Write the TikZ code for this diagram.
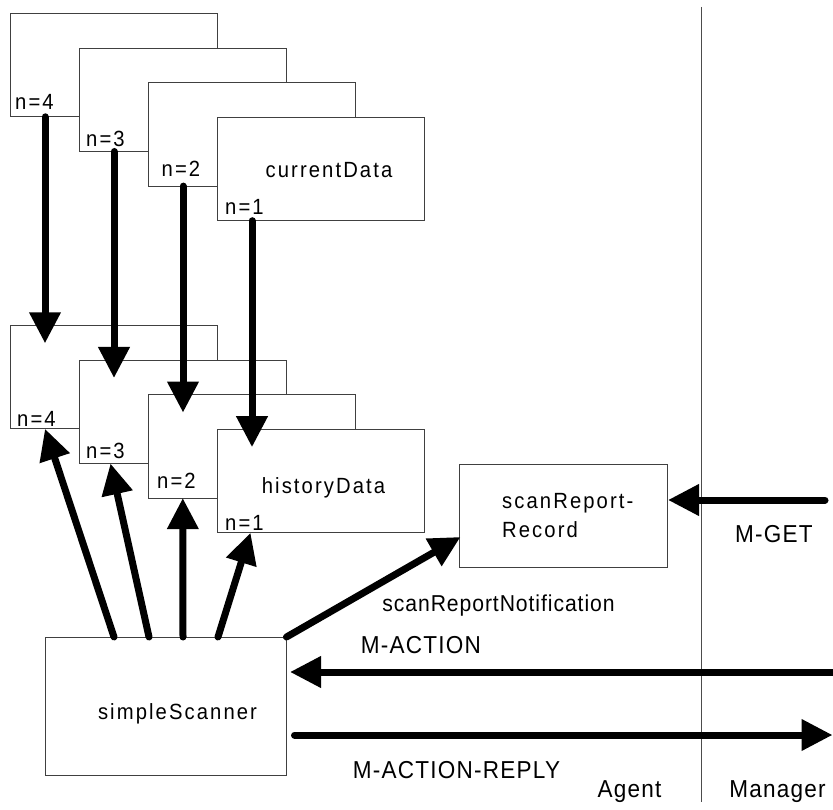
\documentclass[tikz,border=0pt]{standalone}
\usepackage{fontspec}
\setmainfont{Liberation Sans}
\newfontfamily\smallfont{Liberation Sans}[LetterSpace=9.5,FakeStretch=0.92]
\newfontfamily\bigfont{Liberation Sans}[LetterSpace=5,FakeStretch=0.92]
\newfontfamily\notefont{Liberation Sans}[LetterSpace=4,FakeStretch=0.92]
\usetikzlibrary{arrows.meta,calc}

\begin{document}
\begin{tikzpicture}[x=1pt,y=-1pt,
  frame/.style={draw=black!75, line width=0.9pt, fill=white, inner sep=0pt,
    outer sep=0pt, anchor=north west, minimum width=207pt, minimum height=103.5pt},
  plainbox/.style={draw=black!75, line width=0.9pt, fill=white, inner sep=0pt,
    outer sep=0pt, anchor=north west},
  flow/.style={line width=7pt, line cap=round, -{Triangle[length=31pt,width=30pt]}},
  txt/.style={inner sep=0pt, anchor=base, font=\smallfont\fontsize{22}{25}\selectfont},
  idx/.style={inner sep=0pt, anchor=base west, font=\smallfont\fontsize{22}{25}\selectfont},
  msg/.style={inner sep=0pt, anchor=base, font=\bigfont\fontsize{24.5}{27}\selectfont},
  divider/.style={draw=black!70, line width=0.9pt}
]
\useasboundingbox (0,0) rectangle (833,810);

% currentData stack, back to front
\node[frame] (c4) at (10.5,13.3) {};
\node[idx] (c4l) at (15,110) {n=4};
\node[frame] (c3) at (79.5,48) {};
\node[idx] (c3l) at (86,147) {n=3};
\node[frame] (c2) at (148.5,82.6) {};
\node[idx] (c2l) at (161.5,177) {n=2};
\node[frame] (c1) at (217.5,117.2) {};
\node[idx] (c1l) at (225,215) {n=1};
\node[txt] (cdt) at (329,178) {currentData};

% historyData stack, back to front
\node[frame] (h4) at (10.5,325.3) {};
\node[idx] (h4l) at (17,426) {n=4};
\node[frame] (h3) at (79.5,360) {};
\node[idx] (h3l) at (86,458) {n=3};
\node[frame] (h2) at (148.5,394.6) {};
\node[idx] (h2l) at (157,488) {n=2};
\node[frame] (h1) at (217.5,429.2) {};
\node[idx] (h1l) at (225,530) {n=1};
\node[txt] (hdt) at (323.5,493) {historyData};

% scanner and report record
\node[plainbox, minimum width=241.5pt, minimum height=138pt] (scan) at (45,637) {};
\node[txt] (scant) at (177.5,719) {simpleScanner};
\node[plainbox, minimum width=208pt, minimum height=103pt] (rec) at (459,464) {};
\node[idx] (rect1) at (502,508) {scanReport-};
\node[idx] (rect2) at (502,537) {Record};

% agent / manager boundary
\coordinate (divtop) at (701,7);
\coordinate (divbot) at (701,802);
\draw[divider] (divtop) -- (divbot);

% copies from currentData to historyData
\foreach \k in {1,...,4}{
  \draw[flow] ($(c\k.south west)+(34.5,0)$) -- ($(h\k.north west)+(34.5,18)$);
}

% scanner updates of historyData
\draw[flow] ($(scan.north west)+(69,0)$) -- ($(h4.south west)+(34.5,0)$);
\draw[flow] ($(scan.north west)+(104,0)$) -- ($(h3.south west)+(31,0)$);
\draw[flow] ($(scan.north west)+(138,0)$) -- ($(h2.south west)+(34.3,0)$);
\draw[flow] ($(scan.north west)+(173,0)$) -- ($(h1.south west)+(33,0)$);

% notification to the report record
\draw[flow] (scan.north east) -- ($(rec.north west)+(1.5,73)$);
\node[msg, font=\notefont\fontsize{23}{26}\selectfont] (notet) at (498.5,611) {scanReportNotification};

% manager operations
\coordinate (getsrc) at (825,500);
\draw[flow] (getsrc) -- ($(rec.north east)+(1,36)$);
\node[msg] (gett) at (774,542) {M-GET};

\coordinate (actsrc) at (840,672);
\draw[flow] (actsrc) -- ($(scan.north east)+(3.5,35)$);
\node[msg] (actt) at (421,653) {M-ACTION};

\coordinate (replydst) at (832.5,735);
\draw[flow] ($(scan.north east)+(8,98)$) -- (replydst);
\node[msg] (replyt) at (456.5,778) {M-ACTION-REPLY};

\node[msg] (agent) at (629.5,797) {Agent};
\node[msg] (manager) at (777.5,797) {Manager};
\end{tikzpicture}
\end{document}
